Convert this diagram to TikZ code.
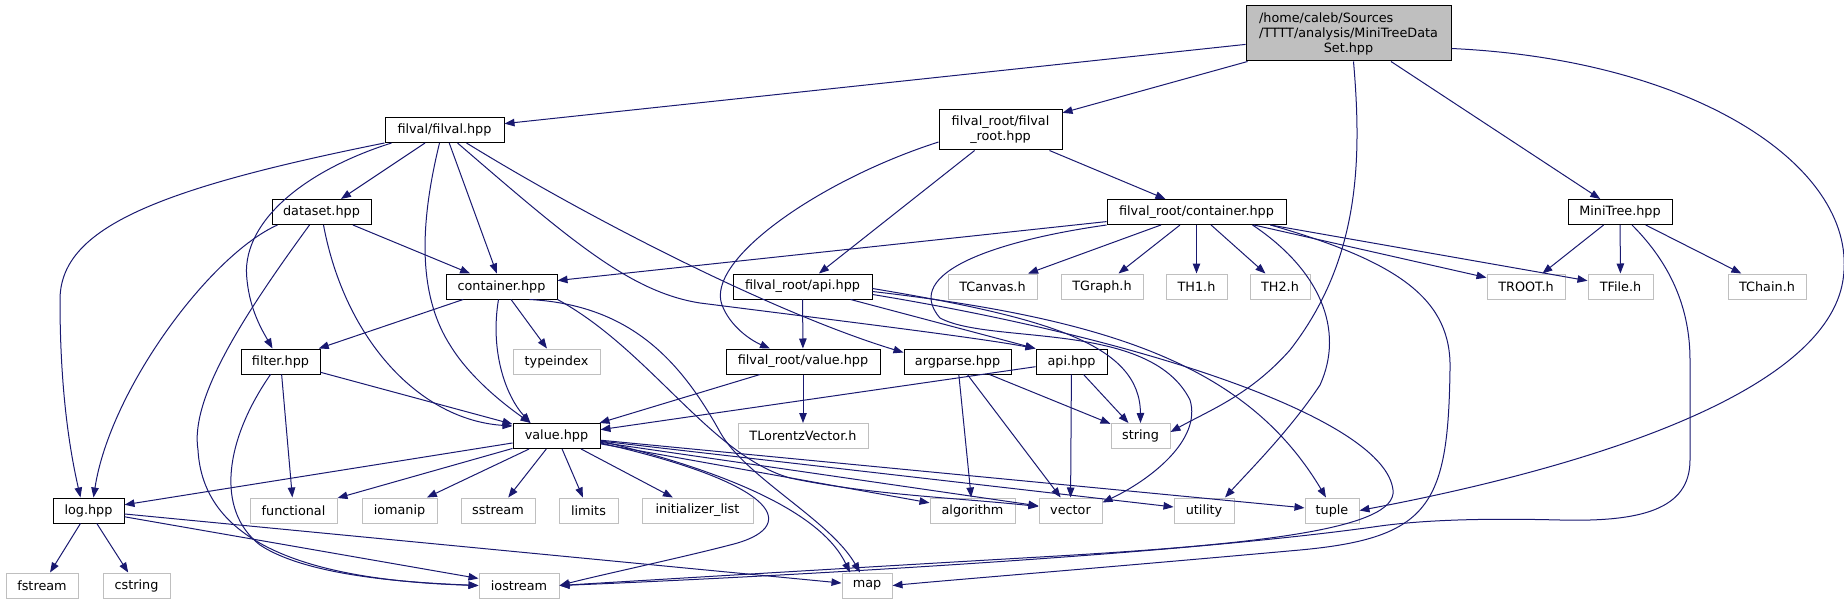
\documentclass[tikz,border=0pt]{standalone}
\usepackage{fontspec}
\setmainfont{DejaVu Sans}
\usetikzlibrary{arrows.meta}
\definecolor{edgeblue}{HTML}{191970}
\definecolor{sysgrey}{HTML}{BFBFBF}
\begin{document}
\begin{tikzpicture}[x=1pt,y=-1pt]
\tikzstyle{hdr}=[draw=black, line width=1pt, fill=white, inner sep=2pt, minimum height=25pt, font=\fontsize{12.8}{15}\selectfont, align=center]
\tikzstyle{sys}=[hdr, draw=sysgrey]
\tikzstyle{inc}=[edgeblue, line width=1pt, -{Triangle[length=10pt,width=7.5pt]}]
\useasboundingbox (0,0) rectangle (1844,604);
\node [hdr, fill=sysgrey, minimum width=205pt, minimum height=55pt] (root) at (1348.5,33.5) {\rlap{/home/caleb/Sources}\phantom{/TTTT/analysis/MiniTreeData}\\/TTTT/analysis/MiniTreeData\\Set.hpp};
\node [hdr, minimum width=119pt] (filval) at (444.5,130) {filval/filval.hpp};
\node [hdr, minimum width=123pt, minimum height=40pt] (froot) at (1000.5,130) {filval\_root/filval\\\_root.hpp};
\node [hdr, minimum width=99pt] (dataset) at (321.5,212) {dataset.hpp};
\node [hdr, minimum width=179pt] (frcont) at (1196.5,212) {filval\_root/container.hpp};
\node [hdr, minimum width=104pt] (minitree) at (1620,212) {MiniTree.hpp};
\node [hdr, minimum width=111pt] (container) at (501.5,286.5) {container.hpp};
\node [hdr, minimum width=139pt] (frapi) at (802.5,286.5) {filval\_root/api.hpp};
\node [sys, minimum width=89pt] (tcanvas) at (992.5,286.5) {TCanvas.h};
\node [sys, minimum width=82pt] (tgraph) at (1102,286.5) {TGraph.h};
\node [sys, minimum width=61pt] (th1) at (1196.5,286.5) {TH1.h};
\node [sys, minimum width=60pt] (th2) at (1280,286.5) {TH2.h};
\node [sys, minimum width=78pt] (troot) at (1526,286.5) {TROOT.h};
\node [sys, minimum width=65pt] (tfile) at (1620.5,286.5) {TFile.h};
\node [sys, minimum width=78pt] (tchain) at (1767,286.5) {TChain.h};
\node [hdr, minimum width=79pt] (filter) at (280.5,361.5) {filter.hpp};
\node [sys, minimum width=87pt] (typeindex) at (556.5,361.5) {typeindex};
\node [hdr, minimum width=154pt] (frvalue) at (803,361.5) {filval\_root/value.hpp};
\node [hdr, minimum width=107pt] (argparse) at (957.5,361.5) {argparse.hpp};
\node [hdr, minimum width=71pt] (api) at (1071.5,361.5) {api.hpp};
\node [hdr, minimum width=87pt] (value) at (556.5,436) {value.hpp};
\node [sys, minimum width=130pt] (tlorentz) at (803,436) {TLorentzVector.h};
\node [sys, minimum width=59pt] (string) at (1140.5,436) {string};
\node [hdr, minimum width=71pt] (log) at (88.5,510.5) {log.hpp};
\node [sys, minimum width=87pt] (functional) at (293.5,510.5) {functional};
\node [sys, minimum width=75pt] (iomanip) at (399.5,510.5) {iomanip};
\node [sys, minimum width=74pt] (sstream) at (498,510.5) {sstream};
\node [sys, minimum width=59pt] (limits) at (588.5,510.5) {limits};
\node [sys, minimum width=111pt] (initlist) at (697.5,510.5) {initializer\_list};
\node [sys, minimum width=85pt] (algorithm) at (972.5,510.5) {algorithm};
\node [sys, minimum width=63pt] (vector) at (1070.5,510.5) {vector};
\node [sys, minimum width=60pt] (utility) at (1204,510.5) {utility};
\node [sys, minimum width=54pt] (tuple) at (1332,510.5) {tuple};
\node [sys, minimum width=72pt] (fstream) at (42,585.5) {fstream};
\node [sys, minimum width=67pt] (cstring) at (136.5,585.5) {cstring};
\node [sys, minimum width=80pt] (iostream) at (519,585.5) {iostream};
\node [sys, minimum width=50pt] (map) at (867,585.5) {map};
\draw [inc] (root) -- (filval);
\draw [inc] (root) -- (froot);
\draw [inc] (root) -- (minitree);
\draw [inc] ([xshift=5pt]root.south) .. controls (1362,160) and (1360,260) .. (1290,350) .. controls (1250,395) and (1210,410) .. ([yshift=4pt]string.east);
\draw [inc] ([yshift=-15pt]root.east) .. controls (1700,60) and (1860,170) .. (1843,280) .. controls (1826,390) and (1600,465) .. (tuple.east);
\draw [inc] (filval.south west) .. controls (150,190) and (60,230) .. (60,300) .. controls (60,400) and (72,460) .. ([xshift=-8pt]log.north);
\draw [inc] ([xshift=-53pt]filval.south) .. controls (300,172) and (240,225) .. (247,280) .. controls (250,310) and (262,330) .. ([xshift=-8pt]filter.north);
\draw [inc] (filval) -- (dataset);
\draw [inc] ([xshift=-5pt]filval.south) .. controls (422,215) and (415,290) .. (450,345) .. controls (470,378) and (505,405) .. ([xshift=-26pt]value.north);
\draw [inc] (filval) -- (container);
\draw [inc] ([xshift=22pt]filval.south) .. controls (600,225) and (780,315) .. ([yshift=9pt]argparse.west);
\draw [inc] ([xshift=13pt]filval.south) .. controls (570,240) and (630,292) .. (700,303) .. controls (850,322) and (980,338) .. (api.north west);
\draw [inc] ([xshift=-44pt]dataset.south) .. controls (210,255) and (110,390) .. ([xshift=5pt]log.north);
\draw [inc] ([xshift=-12pt]dataset.south) .. controls (240,320) and (190,400) .. (198,450) .. controls (203,540) and (300,580) .. (iostream.west);
\draw [inc] ([xshift=2pt]dataset.south) .. controls (345,340) and (420,420) .. ([yshift=-3pt]value.north west);
\draw [inc] (dataset) -- (container);
\draw [inc] (container) -- (filter);
\draw [inc] ([xshift=-3pt]container.south) .. controls (490,350) and (505,395) .. ([xshift=-26pt]value.north);
\draw [inc] (container) -- (typeindex);
\draw [inc] ([xshift=28pt]container.south) .. controls (630,305) and (680,360) .. (720,432) .. controls (745,477) and (830,520) .. ([xshift=-7pt]map.north);
\draw [inc] (container.south east) .. controls (650,350) and (710,455) .. (790,478) .. controls (870,495) and (960,498) .. ([yshift=4pt]vector.west);
\draw [inc] (filter) -- (functional);
\draw [inc] (filter) -- (value);
\draw [inc] ([xshift=-10pt]filter.south) .. controls (225,440) and (215,510) .. (260,545) .. controls (310,578) and (420,583) .. (iostream.west);
\draw [inc] (value) -- (log);
\draw [inc] (value) -- (functional);
\draw [inc] (value) -- (iomanip);
\draw [inc] (value) -- (sstream);
\draw [inc] (value) -- (limits);
\draw [inc] (value) -- (initlist);
\draw [inc] (value) -- (algorithm);
\draw [inc] (value) -- (vector);
\draw [inc] (value) -- (utility);
\draw [inc] (value) -- (tuple);
\draw [inc] ([yshift=-5pt]value.east) .. controls (720,470) and (820,510) .. ([xshift=-17pt]map.north);
\draw [inc] ([yshift=-7pt]value.east) .. controls (785,485) and (800,528) .. (730,545) .. controls (680,558) and (600,575) .. (iostream.east);
\draw [inc] (log) -- (fstream);
\draw [inc] (log) -- (cstring);
\draw [inc] (log) -- (iostream);
\draw [inc] (log) -- (map);
\draw [inc] ([yshift=-12pt]froot.west) .. controls (820,180) and (705,260) .. (722,305) .. controls (730,326) and (750,340) .. ([xshift=-33pt]frvalue.north);
\draw [inc] (froot) -- (frapi);
\draw [inc] (froot) -- (frcont);
\draw [inc] (frapi) -- (frvalue);
\draw [inc] ([xshift=48pt]frapi.south) -- (api.north west);
\draw [inc] ([yshift=-2pt]frapi.east) .. controls (1050,318) and (1140,345) .. (string.north);
\draw [inc] ([yshift=-5pt]frapi.east) .. controls (1120,320) and (1250,370) .. ([xshift=-6pt]tuple.north);
\draw [inc] ([yshift=-8pt]frapi.east) .. controls (1150,340) and (1385,420) .. (1393,490) .. controls (1398,530) and (1250,545) .. (1040,557) .. controls (850,568) and (650,580) .. (iostream.east);
\draw [inc] (frvalue) -- (value);
\draw [inc] (frvalue) -- (tlorentz);
\draw [inc] (argparse) -- (algorithm);
\draw [inc] (argparse) -- (vector);
\draw [inc] (argparse) -- (string);
\draw [inc] (api) -- (value);
\draw [inc] (api) -- (vector);
\draw [inc] (api) -- (string);
\draw [inc] (frcont) -- (container);
\draw [inc] (frcont) -- (tcanvas);
\draw [inc] (frcont) -- (tgraph);
\draw [inc] (frcont) -- (th1);
\draw [inc] (frcont) -- (th2);
\draw [inc] (frcont) -- (troot);
\draw [inc] (frcont) -- (tfile);
\draw [inc] ([xshift=56pt]frcont.south) .. controls (1320,270) and (1345,330) .. (1320,385) .. controls (1290,430) and (1250,470) .. ([xshift=21pt]utility.north);
\draw [inc] (frcont.south west) .. controls (1000,240) and (900,272) .. (940,318) .. controls (990,345) and (1150,320) .. (1190,400) .. controls (1202,440) and (1150,480) .. ([yshift=8pt]vector.east);
\draw [inc] ([xshift=74pt]frcont.south) .. controls (1400,262) and (1452,300) .. (1450,370) .. controls (1448,505) and (1430,538) .. (1300,550) .. controls (1100,568) and (950,580) .. (map.east);
\draw [inc] (minitree) -- (troot);
\draw [inc] (minitree) -- (tfile);
\draw [inc] (minitree) -- (tchain);
\draw [inc] ([xshift=12pt]minitree.south) .. controls (1672,265) and (1690,310) .. (1690,360) -- (1690,460) .. controls (1690,510) and (1640,522) .. (1560,520) .. controls (1480,518) and (1420,520) .. (1373,527) .. controls (1150,558) and (700,580) .. (iostream.east);
\end{tikzpicture}
\end{document}
